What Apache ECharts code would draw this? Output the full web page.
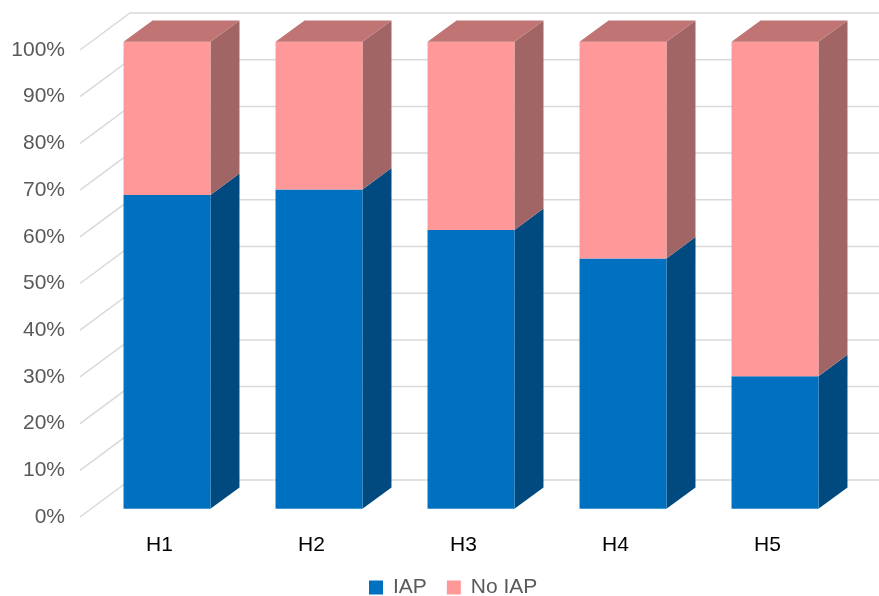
<!DOCTYPE html>
<html>
<head>
<meta charset="utf-8">
<script src="https://cdn.jsdelivr.net/npm/echarts@6/dist/echarts.min.js"></script>
<style>
html,body{margin:0;padding:0;background:#fff;}
#chart{width:879px;height:596px;}
</style>
</head>
<body>
<div id="chart"></div>
<script>
const categories = ['H1', 'H2', 'H3', 'H4', 'H5'];
const iapValues = [67.2, 68.4, 59.7, 53.6, 28.4];
const noIapValues = [32.8, 31.6, 40.3, 46.4, 71.6];
const yTicks = [0, 10, 20, 30, 40, 50, 60, 70, 80, 90, 100];
const seriesNames = ['IAP', 'No IAP'];

const DEPTH = { x: 50, y: -37 };
const BAR_START = 0.22, BAR_DEPTH = 0.58, BAR_WIDTH = 0.572;

function barRenderer(front, side, top, drawTop) {
  return function (params, api) {
    const i = api.value(0), base = api.value(1), val = api.value(2);
    const pB = api.coord([i, base]);
    const pT = api.coord([i, base + val]);
    const band = api.size([1, 0])[0];
    const w = band * BAR_WIDTH;
    const ox = DEPTH.x * BAR_START, oy = DEPTH.y * BAR_START;
    const dx = DEPTH.x * BAR_DEPTH, dy = DEPTH.y * BAR_DEPTH;
    const x0 = pB[0] - w / 2 + ox, x1 = x0 + w;
    const yb = pB[1] + oy, yt = pT[1] + oy;
    const children = [
      { type: 'polygon', shape: { points: [[x1, yt], [x1 + dx, yt + dy], [x1 + dx, yb + dy], [x1, yb]] }, style: { fill: side } },
      { type: 'rect', shape: { x: x0, y: yt, width: w, height: yb - yt }, style: { fill: front } }
    ];
    if (drawTop) {
      children.push({ type: 'polygon', shape: { points: [[x0, yt], [x1, yt], [x1 + dx, yt + dy], [x0 + dx, yt + dy]] }, style: { fill: top } });
    }
    return { type: 'group', children: children };
  };
}

const iapData = categories.map((c, i) => [i, 0, iapValues[i]]);
const noIapData = categories.map((c, i) => [i, iapValues[i], noIapValues[i]]);

const chart = echarts.init(document.getElementById('chart'));
chart.setOption({
  animation: false,
  textStyle: { fontFamily: 'Liberation Sans, Arial, sans-serif' },
  grid: { left: 80, right: 39, top: 50, bottom: 79 },
  legend: {
    data: seriesNames,
    left: 364, top: 572,
    icon: 'rect', itemWidth: 14, itemHeight: 14, itemGap: 20,
    textStyle: { fontSize: 21, color: '#595959', padding: [0, 0, 0, 5] }
  },
  xAxis: {
    type: 'category', data: categories,
    axisLine: { show: false }, axisTick: { show: false },
    axisLabel: { fontSize: 21, color: '#000', margin: 18, padding: [0, 0, 0, 7] },
    splitLine: { show: false }
  },
  yAxis: {
    type: 'value', min: 0, max: 100, interval: 10,
    axisLine: { show: false }, axisTick: { show: false }, splitLine: { show: false },
    axisLabel: { fontSize: 21, color: '#595959', margin: 15, formatter: '{value}%' }
  },
  series: [
    {
      type: 'custom', name: 'grid', z: 1, silent: true, clip: false,
      encode: { x: 0, y: 1 },
      data: yTicks.map(v => [0, v]),
      renderItem: function (params, api) {
        const y = api.coord([0, api.value(1)])[1];
        const cs = params.coordSys;
        return {
          type: 'polyline',
          shape: { points: [[cs.x, y], [cs.x + DEPTH.x, y + DEPTH.y], [cs.x + cs.width + DEPTH.x, y + DEPTH.y]] },
          style: { stroke: '#d9d9d9', lineWidth: 1.5, fill: null }
        };
      }
    },
    {
      type: 'custom', name: 'IAP', z: 2, clip: false,
      itemStyle: { color: '#0070C0' },
      encode: { x: 0, y: 2 },
      data: iapData,
      renderItem: barRenderer('#0070C0', '#004A80', '#1F5F99', false)
    },
    {
      type: 'custom', name: 'No IAP', z: 3, clip: false,
      itemStyle: { color: '#FF9999' },
      encode: { x: 0, y: 2 },
      data: noIapData,
      renderItem: barRenderer('#FF9999', '#A16565', '#C07474', true)
    }
  ]
});
</script>
</body>
</html>
